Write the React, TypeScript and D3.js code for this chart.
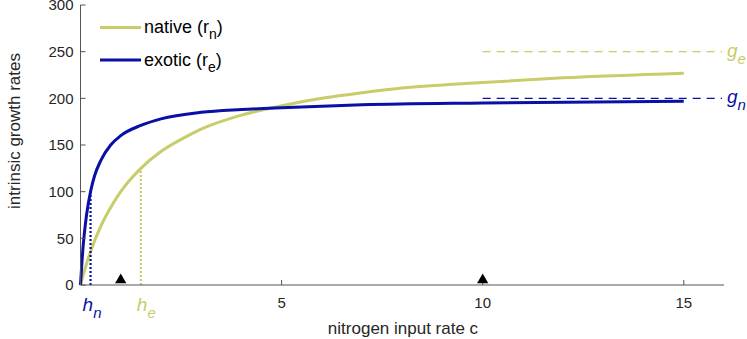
import React from "react";
import * as d3 from "d3";

// values
const cNative = [0, 0.1, 0.25, 0.5, 0.75, 1, 1.5, 2, 2.5, 3, 4, 5, 6, 7, 8, 10, 12, 15];
const rNative = [0, 15.6, 35.7, 62.5, 83, 100, 125, 143, 156, 167, 182, 192, 200, 206, 211, 217, 222, 227];
const cExotic = [0, 0.03, 0.06, 0.1, 0.15, 0.25, 0.35, 0.5, 0.75, 1, 1.5, 2, 3, 4, 5, 7, 10, 15];
const rExotic = [0, 21, 39, 57, 75, 100, 117, 133, 150, 160, 171, 178, 185, 188, 190, 193, 195, 197];
const yTicks = [0, 50, 100, 150, 200, 250, 300];
const xTicks = [5, 10, 15];
const markers = [1, 10];
const halfSat = { n: 0.25, e: 1.5 };
const halfRate = { n: 100, e: 125 };
const maxRate = { n: 200, e: 250 };

const GREEN = "#c8cc6a";
const BLUE = "#0a0fa6";
const AXIS = "#555";
const TEXT = "#262626";
const FONT = "'Liberation Sans', Arial, sans-serif";

const W = 747, H = 339;
const x = d3.scaleLinear().domain([0, 16]).range([80.5, 724]);
const y = d3.scaleLinear().domain([0, 300]).range([285, 5]);

const line = d3.line<[number, number]>()
  .x(d => x(d[0]))
  .y(d => y(d[1]))
  .curve(d3.curveMonotoneX);

export default function App() {
  const nativePts = cNative.map((c, i) => [c, rNative[i]] as [number, number]);
  const exoticPts = cExotic.map((c, i) => [c, rExotic[i]] as [number, number]);
  const tri = d3.symbol().type(d3.symbolTriangle).size(55)();

  return (
    <svg width={W} height={H} style={{ position: "absolute", left: 0, top: 0 }} fontFamily={FONT}>
      <rect width={W} height={H} fill="#fff" />

      {/* dashed asymptotes */}
      <line x1={x(10)} x2={x(16) - 2} y1={y(maxRate.e)} y2={y(maxRate.e)} stroke={GREEN} strokeWidth={1.3} strokeDasharray="8,6" />
      <line x1={x(10)} x2={x(16) - 2} y1={y(maxRate.n)} y2={y(maxRate.n)} stroke={BLUE} strokeWidth={1.3} strokeDasharray="8,6" />

      {/* curves */}
      <path d={line(nativePts) || ""} fill="none" stroke={GREEN} strokeWidth={3} />
      <path d={line(exoticPts) || ""} fill="none" stroke={BLUE} strokeWidth={3} />

      {/* half saturation markers */}
      <line x1={x(halfSat.n)} x2={x(halfSat.n)} y1={y(0)} y2={y(halfRate.n)} stroke={BLUE} strokeWidth={2.2} strokeDasharray="2,2" />
      <line x1={x(halfSat.e)} x2={x(halfSat.e)} y1={y(0)} y2={y(halfRate.e)} stroke={GREEN} strokeWidth={2.2} strokeDasharray="2,2" />

      {/* axes */}
      <line x1={x(0)} x2={x(0)} y1={y(0)} y2={y(300)} stroke={AXIS} strokeWidth={1} />
      <line x1={x(0)} x2={x(16)} y1={y(0)} y2={y(0)} stroke={AXIS} strokeWidth={1} />
      {yTicks.map(t => (
        <g key={"y" + t}>
          <line x1={x(0)} x2={x(0) + 5} y1={y(t)} y2={y(t)} stroke={AXIS} />
          <text x={x(0) - 7} y={y(t)} dy="0.36em" textAnchor="end" fontSize={15} fill={TEXT}>{t}</text>
        </g>
      ))}
      {xTicks.map(t => (
        <g key={"x" + t}>
          <line x1={x(t)} x2={x(t)} y1={y(0)} y2={y(0) - 5} stroke={AXIS} />
          <text x={x(t)} y={y(0) + 23} textAnchor="middle" fontSize={15} fill={TEXT}>{t}</text>
        </g>
      ))}
      {markers.map(m => (
        <path key={"m" + m} d={tri || ""} transform={`translate(${x(m)},${y(0) - 5})`} fill="#000" />
      ))}

      {/* axis labels */}
      <text x={403} y={334} textAnchor="middle" fontSize={17} fill={TEXT}>nitrogen input rate c</text>
      <text transform={`translate(20,${y(165)}) rotate(-90)`} textAnchor="middle" fontSize={17} fill={TEXT}>intrinsic growth rates</text>

      {/* h labels */}
      <text x={x(halfSat.n) - 8} y={311} fontSize={19} fontStyle="italic" fill={BLUE}>h<tspan dy={7} fontSize={15}>n</tspan></text>
      <text x={x(halfSat.e) - 4} y={311} fontSize={19} fontStyle="italic" fill={GREEN}>h<tspan dy={7} fontSize={15}>e</tspan></text>

      {/* g labels */}
      <text x={727} y={y(maxRate.e) + 5} fontSize={19} fontStyle="italic" fill={GREEN}>g<tspan dy={7} fontSize={15}>e</tspan></text>
      <text x={727} y={y(maxRate.n) + 5} fontSize={19} fontStyle="italic" fill={BLUE}>g<tspan dy={7} fontSize={15}>n</tspan></text>

      {/* legend */}
      <line x1={100} x2={141} y1={27.5} y2={27.5} stroke={GREEN} strokeWidth={3} />
      <text x={144} y={33} fontSize={18} fill="#000">native (r<tspan dy={6} fontSize={14}>n</tspan><tspan dy={-6}>)</tspan></text>
      <line x1={100} x2={141} y1={60} y2={60} stroke={BLUE} strokeWidth={3} />
      <text x={144} y={66} fontSize={18} fill="#000">exotic (r<tspan dy={6} fontSize={14}>e</tspan><tspan dy={-6}>)</tspan></text>
    </svg>
  );
}
